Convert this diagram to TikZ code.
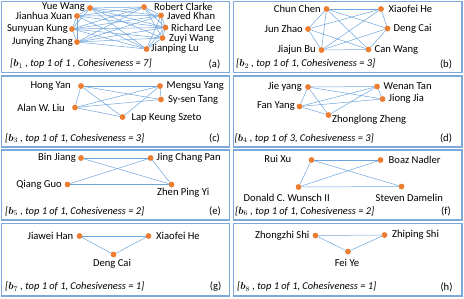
\documentclass[tikz,border=0pt]{standalone}
\usepackage{fontspec}
\usepackage{amsmath,bm}
\setmainfont{Carlito}
\begin{document}
\begin{tikzpicture}[x=1pt,y=-1pt,
  panel/.style={draw={rgb,255:red,125;green,168;blue,218},line width=1.3pt},
  dot/.style={circle,fill={rgb,255:red,237;green,125;blue,49},inner sep=0pt,minimum size=5.5pt},
  nm/.style={font=\fontsize{10.6}{12}\selectfont,inner sep=0pt},
  captext/.style={font=\fontsize{10.4}{12}\selectfont\itshape,inner sep=0pt,anchor=west},
  ptag/.style={font=\fontsize{10.6}{12}\selectfont,inner sep=0pt},
  lnk/.style={draw={rgb,255:red,110;green,165;blue,220},line width=0.5pt}]
\useasboundingbox (0,0) rectangle (464,298);
% panels
\draw[panel] (1.5,1.5) rectangle (229.5,72.5);
\draw[panel] (233.5,1.5) rectangle (462,72.5);
\draw[panel] (1.5,76) rectangle (229.5,147);
\draw[panel] (233.5,76) rectangle (462,147);
\draw[panel] (1.5,150) rectangle (229.5,220);
\draw[panel] (233.5,150) rectangle (462,220);
\draw[panel] (1.5,223.5) rectangle (229.5,296);
\draw[panel] (233.5,223.5) rectangle (462,296);

% ---------- (a)
\node[dot] (aYW) at (90,8) {};
\node[dot] (aJX) at (77,16) {};
\node[dot] (aSK) at (72,29) {};
\node[dot] (aJZ) at (77,42) {};
\node[dot] (aRC) at (144,7) {};
\node[dot] (aJK) at (161,15.5) {};
\node[dot] (aRL) at (165.5,27.5) {};
\node[dot] (aZW) at (162.5,38) {};
\node[dot] (aJL) at (146.5,49) {};
\foreach \u/\v in {aYW/aJX,aYW/aSK,aYW/aRC,aYW/aJK,aYW/aRL,aYW/aZW,aYW/aJL,
  aJX/aSK,aJX/aJZ,aJX/aRC,aJX/aJK,aJX/aRL,aJX/aJL,
  aSK/aJZ,aSK/aRC,aSK/aJK,aSK/aRL,aSK/aZW,aSK/aJL,
  aJZ/aRC,aJZ/aJK,aJZ/aRL,aJZ/aZW,aJZ/aJL,
  aRC/aJK,aRC/aRL,aRC/aZW,aJK/aRL,aJK/aZW,aJK/aJL,aRL/aZW,aRL/aJL,aZW/aJL}
  \draw[lnk] (\u) -- (\v);
\foreach \n in {aYW,aJX,aSK,aJZ,aRC,aJK,aRL,aZW,aJL} \node[dot] at (\n) {};
\node[nm,anchor=east] (laYW) at (85,7.5) {Yue Wang};
\node[nm,anchor=east] (laJX) at (72.5,16) {Jianhua Xuan};
\node[nm,anchor=east] (laSK) at (68,29) {Sunyuan Kung};
\node[nm,anchor=east] (laJZ) at (73,41.5) {Junying Zhang};
\node[nm,anchor=west] (laRC) at (154,7) {Robert Clarke};
\node[nm,anchor=west] (laJK) at (167,16) {Javed Khan};
\node[nm,anchor=west] (laRL) at (171,27.5) {Richard Lee};
\node[nm,anchor=west] (laZW) at (169,38.5) {Zuyi Wang};
\node[nm,anchor=west] (laJL) at (151,48.5) {Jianping Lu};
\node[captext] (capa) at (10,64) {[$\bm{b}_1$ , top 1 of 1 , Cohesiveness = 7]};
\node[ptag] (taga) at (214.5,64) {(a)};

% ---------- (b)
\node[dot] (bCC) at (326.5,9) {};
\node[dot] (bXH) at (381,9) {};
\node[dot] (bJZ) at (308,29) {};
\node[dot] (bDC) at (387.5,28.5) {};
\node[dot] (bJB) at (321.5,50) {};
\node[dot] (bCW) at (368.5,49.5) {};
\foreach \u/\v in {bCC/bXH,bCC/bJZ,bCC/bJB,bCC/bDC,bCC/bCW,bXH/bJZ,bXH/bJB,bXH/bDC,
  bJZ/bJB,bJZ/bCW,bJB/bCW,bJB/bDC,bDC/bCW}
  \draw[lnk] (\u) -- (\v);
\foreach \n in {bCC,bXH,bJZ,bDC,bJB,bCW} \node[dot] at (\n) {};
\node[nm,anchor=east] (lbCC) at (321,9) {Chun Chen};
\node[nm,anchor=west] (lbXH) at (388.5,9) {Xiaofei He};
\node[nm,anchor=east] (lbJZ) at (303,29) {Jun Zhao};
\node[nm,anchor=west] (lbDC) at (393.5,28.5) {Deng Cai};
\node[nm,anchor=east] (lbJB) at (316,50) {Jiajun Bu};
\node[nm,anchor=west] (lbCW) at (374.5,49.5) {Can Wang};
\node[captext] (capb) at (236,64) {[$\bm{b}_2$ , top 1 of 1, Cohesiveness = 3]};
\node[ptag] (tagb) at (446,64) {(b)};

% ---------- (c)
\node[dot] (cHY) at (81,86) {};
\node[dot] (cMY) at (160,86) {};
\node[dot] (cAL) at (75,107.5) {};
\node[dot] (cST) at (161,99.5) {};
\node[dot] (cLK) at (122.5,117) {};
\foreach \u/\v in {cHY/cMY,cHY/cST,cHY/cLK,cHY/cAL,cAL/cMY,cAL/cST,cAL/cLK,cLK/cMY,cMY/cST}
  \draw[lnk] (\u) -- (\v);
\foreach \n in {cHY,cMY,cAL,cST,cLK} \node[dot] at (\n) {};
\node[nm,anchor=east] (lcHY) at (71,86) {Hong Yan};
\node[nm,anchor=west] (lcMY) at (166.5,86) {Mengsu Yang};
\node[nm,anchor=east] (lcAL) at (65,107.5) {Alan W. Liu};
\node[nm,anchor=west] (lcST) at (168,99.5) {Sy-sen Tang};
\node[nm,anchor=west] (lcLK) at (131.5,118) {Lap Keung Szeto};
\node[captext] (capc) at (5,138.5) {[$\bm{b}_3$ , top 1 of 1, Cohesiveness = 3]};
\node[ptag] (tagc) at (214.5,138.5) {(c)};

% ---------- (d)
\node[dot] (dJY) at (308,87) {};
\node[dot] (dWT) at (377,86.5) {};
\node[dot] (dFY) at (299.5,106.5) {};
\node[dot] (dJJ) at (382.5,99) {};
\node[dot] (dZZ) at (328.5,115) {};
\foreach \u/\v in {dJY/dWT,dJY/dJJ,dJY/dZZ,dJY/dFY,dFY/dWT,dFY/dJJ,dFY/dZZ,dZZ/dWT,dWT/dJJ}
  \draw[lnk] (\u) -- (\v);
\foreach \n in {dJY,dWT,dFY,dJJ,dZZ} \node[dot] at (\n) {};
\node[nm,anchor=east] (ldJY) at (302,87) {Jie yang};
\node[nm,anchor=west] (ldWT) at (383.5,86.5) {Wenan Tan};
\node[nm,anchor=east] (ldFY) at (295,106.5) {Fan Yang};
\node[nm,anchor=west] (ldJJ) at (388.5,99) {Jiong Jia};
\node[nm,anchor=west] (ldZZ) at (332,119.5) {Zhonglong Zheng};
\node[captext] (capd) at (234.5,138.5) {[$\bm{b}_4$ , top 1 of 3, Cohesiveness = 3]};
\node[ptag] (tagd) at (446,138.5) {(d)};

% ---------- (e)
\node[dot] (eBJ) at (81,158) {};
\node[dot] (eJP) at (150.5,158) {};
\node[dot] (eQG) at (67.5,184.5) {};
\node[dot] (eZP) at (171.5,184.5) {};
\foreach \u/\v in {eBJ/eJP,eBJ/eZP,eQG/eJP,eQG/eZP,eJP/eZP}
  \draw[lnk] (\u) -- (\v);
\foreach \n in {eBJ,eJP,eQG,eZP} \node[dot] at (\n) {};
\node[nm,anchor=east] (leBJ) at (76,158) {Bin Jiang};
\node[nm,anchor=west] (leJP) at (156.5,158) {Jing Chang Pan};
\node[nm,anchor=east] (leQG) at (62,184.5) {Qiang Guo};
\node[nm,anchor=west] (leZP) at (157,192.5) {Zhen Ping Yi};
\node[captext] (cape) at (5,211.5) {[$\bm{b}_5$ , top 1 of 1, Cohesiveness = 2]};
\node[ptag] (tage) at (215,211.5) {(e)};

% ---------- (f)
\node[dot] (fRX) at (311.5,160) {};
\node[dot] (fBN) at (380.5,160) {};
\node[dot] (fDW) at (298.5,187) {};
\node[dot] (fSD) at (401.5,186.5) {};
\foreach \u/\v in {fRX/fBN,fRX/fSD,fDW/fBN,fDW/fSD,fRX/fDW}
  \draw[lnk] (\u) -- (\v);
\foreach \n in {fRX,fBN,fDW,fSD} \node[dot] at (\n) {};
\node[nm,anchor=east] (lfRX) at (291.5,159) {Rui Xu};
\node[nm,anchor=west] (lfBN) at (388.5,160) {Boaz Nadler};
\node[nm,anchor=west] (lfDW) at (243.5,198) {Donald C. Wunsch II};
\node[nm,anchor=west] (lfSD) at (375.5,198) {Steven Damelin};
\node[captext] (capf) at (235,211.5) {[$\bm{b}_6$ , top 1 of 1, Cohesiveness = 2]};
\node[ptag] (tagf) at (446,211.5) {(f)};

% ---------- (g)
\node[dot] (gJH) at (79.5,236) {};
\node[dot] (gXH) at (148.5,236) {};
\node[dot] (gDC) at (113.5,254.5) {};
\draw[lnk] (gJH) -- (gXH);
\draw[lnk] (gJH) -- (gDC);
\draw[lnk] (gDC) -- (gXH);
\foreach \n in {gJH,gXH,gDC} \node[dot] at (\n) {};
\node[nm,anchor=east] (lgJH) at (73.5,236) {Jiawei Han};
\node[nm,anchor=west] (lgXH) at (156,236) {Xiaofei He};
\node[nm] (lgDC) at (112,263.5) {Deng Cai};
\node[captext] (capg) at (5,287) {[$\bm{b}_7$ , top 1 of 1, Cohesiveness = 1]};
\node[ptag] (tagg) at (215.5,287) {(g)};

% ---------- (h)
\node[dot] (hZS) at (315.5,235.5) {};
\node[dot] (hZP) at (384.5,235) {};
\node[dot] (hFY) at (348,251.5) {};
\draw[lnk] (hZS) -- (hZP);
\draw[lnk] (hZS) -- (hFY);
\draw[lnk] (hFY) -- (hZP);
\foreach \n in {hZS,hZP,hFY} \node[dot] at (\n) {};
\node[nm,anchor=east] (lhZS) at (309.5,235.5) {Zhongzhi Shi};
\node[nm,anchor=west] (lhZP) at (392,235) {Zhiping Shi};
\node[nm] (lhFY) at (347,262.5) {Fei Ye};
\node[captext] (caph) at (237,287) {[$\bm{b}_8$ , top 1 of 1, Cohesiveness = 1]};
\node[ptag] (tagh) at (446.5,287) {(h)};
\end{tikzpicture}
\end{document}
